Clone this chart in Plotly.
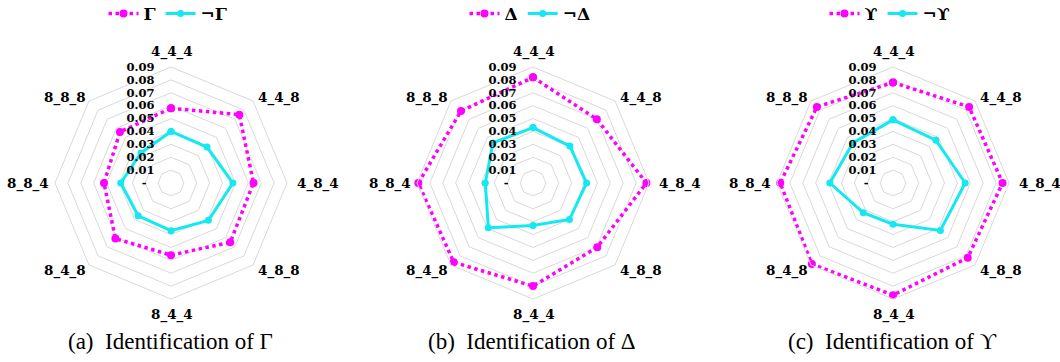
import math
import plotly.graph_objects as go

categories = ["4_4_4", "4_4_8", "4_8_4", "4_8_8", "8_4_4", "8_4_8", "8_8_4", "8_8_8"]

gamma_pos = [0.058, 0.075, 0.064, 0.065, 0.056, 0.061, 0.052, 0.056]
gamma_neg = [0.040, 0.0395, 0.048, 0.041, 0.037, 0.036, 0.039, 0.033]

delta_pos = [0.082, 0.070, 0.088, 0.0705, 0.080, 0.087, 0.089, 0.079]
delta_neg = [0.043, 0.0405, 0.0416, 0.040, 0.033, 0.049, 0.037, 0.044]

ups_pos = [0.078, 0.0835, 0.085, 0.082, 0.087, 0.089, 0.0875, 0.0835]
ups_neg = [0.049, 0.047, 0.056, 0.052, 0.032, 0.0326, 0.049, 0.044]

symbols = ["Γ", "Δ", "ϒ"]
captions = ["(a)\u00a0\u00a0Identification of Γ", "(b)\u00a0\u00a0Identification of Δ", "(c)\u00a0\u00a0Identification of ϒ"]

tick_vals = [0, 0.01, 0.02, 0.03, 0.04, 0.05, 0.06, 0.07, 0.08, 0.09]
tick_text = ["-\u00a0\u00a0", "0.01", "0.02", "0.03", "0.04", "0.05", "0.06", "0.07", "0.08", "0.09"]

MAGENTA = "#ff00ff"
CYAN = "#14e8f0"
GRID = "#d9d9d9"
W, H = 1060, 362
centers_x = [171, 533, 893]
center_y = 183
R = 116

fig = go.Figure()
series = [(gamma_pos, gamma_neg), (delta_pos, delta_neg), (ups_pos, ups_neg)]

for i, (pos, neg) in enumerate(series):
    pname = "polar" if i == 0 else f"polar{i+1}"
    lname = "legend" if i == 0 else f"legend{i+1}"
    theta = categories + [categories[0]]
    fig.add_trace(go.Scatterpolar(
        r=pos + [pos[0]], theta=theta, mode="lines+markers",
        name=symbols[i], subplot=pname, legend=lname,
        line=dict(color=MAGENTA, width=3.5, dash="dot"),
        marker=dict(color=MAGENTA, size=8),
    ))
    fig.add_trace(go.Scatterpolar(
        r=neg + [neg[0]], theta=theta, mode="lines+markers",
        name="¬" + symbols[i], subplot=pname, legend=lname,
        line=dict(color=CYAN, width=3),
        marker=dict(color=CYAN, size=7),
    ))
    cx = centers_x[i]
    dom_x = [(cx - R) / W, (cx + R) / W]
    dom_y = [1 - (center_y + R) / H, 1 - (center_y - R) / H]
    fig.update_layout(**{
        pname: dict(
            domain=dict(x=dom_x, y=dom_y),
            gridshape="linear",
            bgcolor="white",
            radialaxis=dict(
                range=[0, 0.09], tickvals=tick_vals, ticktext=tick_text,
                angle=90, tickangle=90, side="counterclockwise",
                showline=False, ticks="outside", ticklen=12, tickcolor="rgba(0,0,0,0)",
                gridcolor=GRID, gridwidth=1,
                tickfont=dict(family="DejaVu Serif", size=11.5, color="black", weight="bold"),
            ),
            angularaxis=dict(
                direction="clockwise", rotation=90,
                showgrid=False, showline=True, linecolor=GRID, linewidth=1,
                ticks="", showticklabels=False,
            ),
        ),
        lname: dict(
            orientation="h", x=(cx - 3) / W, xanchor="center", y=1 + 4 / H, yanchor="top",
            font=dict(family="DejaVu Serif", size=17, color="black", weight="bold"),
            bgcolor="rgba(0,0,0,0)", itemwidth=30,
        ),
    })
    # category labels around the octagon
    n = len(categories)
    for k, cat in enumerate(categories):
        ang = 2 * math.pi * k / n
        sx, sy = math.sin(ang), -math.cos(ang)
        diagonal = abs(sx) > 0.3 and abs(sy) > 0.3
        if diagonal:
            px = cx + R * sx + (4 if sx > 0 else -2)
            py = center_y + R * sy + (-3 if sy < 0 else 5)
        elif abs(sx) < 0.3:
            px = cx + 1
            py = center_y + (131 if sy > 0 else -131) * abs(sy)
        else:
            px = cx + (R + (9 if sx > 0 else 5)) * sx
            py = center_y
        if abs(sx) < 0.3:
            xa = "center"
        elif sx > 0:
            xa = "left"
        else:
            xa = "right"
        fig.add_annotation(
            text=cat, x=px / W, y=1 - py / H, xref="paper", yref="paper",
            xanchor=xa, yanchor="middle", showarrow=False, borderpad=0,
            font=dict(family="DejaVu Serif", size=13.5, color="black", weight="bold"),
        )
    fig.add_annotation(
        text=captions[i], x=(cx - 1) / W, y=1 - 341 / H, xref="paper", yref="paper",
        xanchor="center", yanchor="middle", showarrow=False,
        font=dict(family="Liberation Serif", size=23, color="black"),
    )

fig.update_layout(
    width=W, height=H, margin=dict(l=0, r=0, t=0, b=0, autoexpand=False),
    paper_bgcolor="white", plot_bgcolor="white", showlegend=True,
)

fig.write_html(
    "out.html",
    config={"displayModeBar": False},
    post_script="document.body.style.margin='0';document.body.style.overflow='hidden';",
)
